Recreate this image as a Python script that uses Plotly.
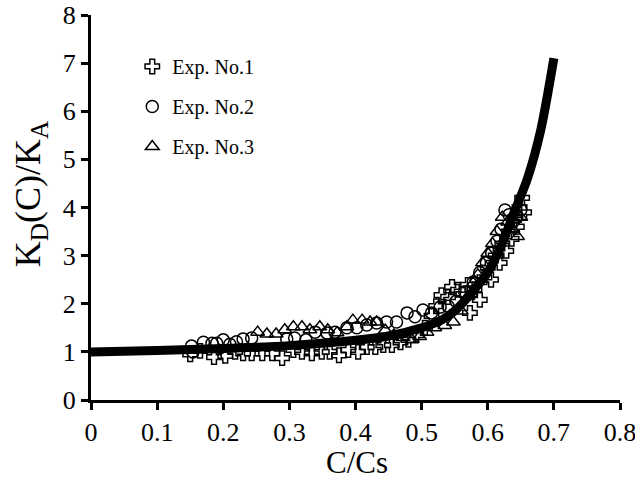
import plotly.graph_objects as go

exp1_x = [0.150, 0.165, 0.186, 0.203, 0.218, 0.230, 0.243, 0.259, 0.274, 0.289,
          0.306, 0.319, 0.334, 0.349, 0.361, 0.375, 0.389, 0.404, 0.417, 0.430,
          0.442, 0.455, 0.468, 0.480, 0.492, 0.505, 0.515, 0.522, 0.530, 0.540,
          0.546, 0.555, 0.563, 0.570, 0.573, 0.580, 0.588, 0.595, 0.600, 0.605,
          0.612, 0.618, 0.622, 0.628, 0.632, 0.636, 0.640, 0.644, 0.648, 0.652, 0.655]
exp1_y = [0.95, 1.02, 0.89, 0.92, 1.00, 0.97, 0.97, 0.97, 0.97, 0.87,
          1.04, 1.00, 0.97, 1.00, 1.00, 0.93, 1.04, 1.00, 1.10, 1.10,
          1.14, 1.14, 1.20, 1.25, 1.35, 1.50, 1.75, 1.95, 2.18, 2.14,
          2.35, 2.29, 2.20, 2.39, 1.81, 2.30, 2.08, 2.55, 2.75, 2.50,
          3.00, 2.85, 3.25, 3.10, 3.50, 3.35, 3.75, 3.60, 4.00, 4.20, 3.90]

exp2_x = [0.152, 0.154, 0.170, 0.183, 0.190, 0.200, 0.210, 0.220, 0.230, 0.243,
          0.296, 0.308, 0.325, 0.339, 0.357, 0.369, 0.387, 0.402, 0.417, 0.432,
          0.447, 0.462, 0.478, 0.490, 0.502, 0.515, 0.528, 0.540, 0.552, 0.565,
          0.578, 0.588, 0.598, 0.606, 0.614, 0.620, 0.626, 0.632, 0.638, 0.644, 0.650]
exp2_y = [1.12, 1.00, 1.20, 1.18, 1.18, 1.25, 1.16, 1.21, 1.27, 1.29,
          1.27, 1.29, 1.25, 1.41, 1.39, 1.41, 1.50, 1.50, 1.56, 1.60,
          1.62, 1.62, 1.81, 1.73, 1.87, 1.81, 1.93, 1.95, 2.05, 2.25,
          2.45, 2.65, 2.85, 3.05, 3.30, 3.55, 3.95, 3.85, 3.70, 3.80, 3.95]

exp3_x = [0.252, 0.266, 0.280, 0.293, 0.306, 0.319, 0.331, 0.346, 0.358, 0.372,
          0.387, 0.396, 0.410, 0.422, 0.432, 0.445, 0.458, 0.472, 0.485, 0.497,
          0.508, 0.520, 0.535, 0.548, 0.560, 0.570, 0.578, 0.585, 0.592, 0.600,
          0.607, 0.614, 0.622, 0.630, 0.638, 0.645, 0.650]
exp3_y = [1.41, 1.37, 1.37, 1.46, 1.52, 1.52, 1.46, 1.52, 1.46, 1.40,
          1.52, 1.66, 1.66, 1.62, 1.62, 1.45, 1.35, 1.30, 1.25, 1.32,
          1.41, 1.50, 1.55, 1.62, 1.85, 2.15, 2.43, 2.60, 2.85, 3.05,
          3.25, 3.50, 3.80, 3.70, 3.55, 3.40, 3.80]

# Model curve
curve_x = [0.0, 0.1, 0.2, 0.3, 0.4, 0.45, 0.5, 0.53, 0.55, 0.58, 0.60, 0.62, 0.64, 0.66, 0.68, 0.70]
curve_y = [1.0, 1.03, 1.07, 1.13, 1.24, 1.33, 1.5, 1.66, 1.85, 2.3, 2.65, 3.2, 3.9, 4.6, 5.6, 7.1]

x_ticks = [0, 0.1, 0.2, 0.3, 0.4, 0.5, 0.6, 0.7, 0.8]
x_tick_labels = ["0", "0.1", "0.2", "0.3", "0.4", "0.5", "0.6", "0.7", "0.8"]
y_ticks = [0, 1, 2, 3, 4, 5, 6, 7, 8]

FONT = "Liberation Serif, Times New Roman, serif"

fig = go.Figure()
mk = dict(color="black", size=12, line=dict(color="black", width=1.5))
fig.add_trace(go.Scatter(x=exp1_x, y=exp1_y, mode="markers", name="Exp. No.1",
                         legendgroup="a",
                         marker=dict(symbol="cross-open", **mk)))
fig.add_trace(go.Scatter(x=exp2_x, y=exp2_y, mode="markers", name="Exp. No.2",
                         legendgroup="b",
                         marker=dict(symbol="circle-open", **mk)))
fig.add_trace(go.Scatter(x=exp3_x, y=exp3_y, mode="markers", name="Exp. No.3",
                         legendgroup="c",
                         marker=dict(symbol="triangle-up-open", **mk)))
fig.add_trace(go.Scatter(x=curve_x, y=curve_y, mode="lines", showlegend=False,
                         line=dict(color="black", width=9, shape="spline", smoothing=0.8)))

fig.update_layout(
    width=635, height=485,
    margin=dict(l=91, r=15, t=15, b=85, autoexpand=False),
    paper_bgcolor="white", plot_bgcolor="white",
    font=dict(family=FONT, color="black"),
    showlegend=True,
    legend=dict(x=0.078, y=0.917, xanchor="left", yanchor="top",
                font=dict(family=FONT, size=20, color="black"),
                bgcolor="rgba(0,0,0,0)", tracegroupgap=11),
    xaxis=dict(range=[0, 0.8], tickvals=x_ticks, ticktext=x_tick_labels,
               automargin=False, ticklabeloverflow="allow",
               showgrid=False, zeroline=False, showline=True, linecolor="black",
               linewidth=3, ticks="outside", ticklen=7, tickwidth=2.5, tickcolor="black",
               tickfont=dict(family=FONT, size=26, color="black")),
    yaxis=dict(range=[0, 8], tickvals=y_ticks, automargin=False, ticklabeloverflow="allow",
               showgrid=False, zeroline=False, showline=True, linecolor="black",
               linewidth=3, ticks="outside", ticklen=7, tickwidth=2.5, tickcolor="black",
               tickfont=dict(family=FONT, size=26, color="black")),
    annotations=[
        dict(text="C/Cs", xref="paper", yref="paper", x=0.502, y=-0.163,
             xanchor="center", yanchor="middle", showarrow=False,
             font=dict(family=FONT, size=31, color="black")),
        dict(text="K<sub>D</sub>(C)/K<sub>A</sub>", xref="paper", yref="paper",
             x=-0.115, y=0.535, xanchor="center", yanchor="middle", showarrow=False,
             textangle=-90, font=dict(family=FONT, size=36, color="black")),
    ],
)

fig.write_html("out.html")
